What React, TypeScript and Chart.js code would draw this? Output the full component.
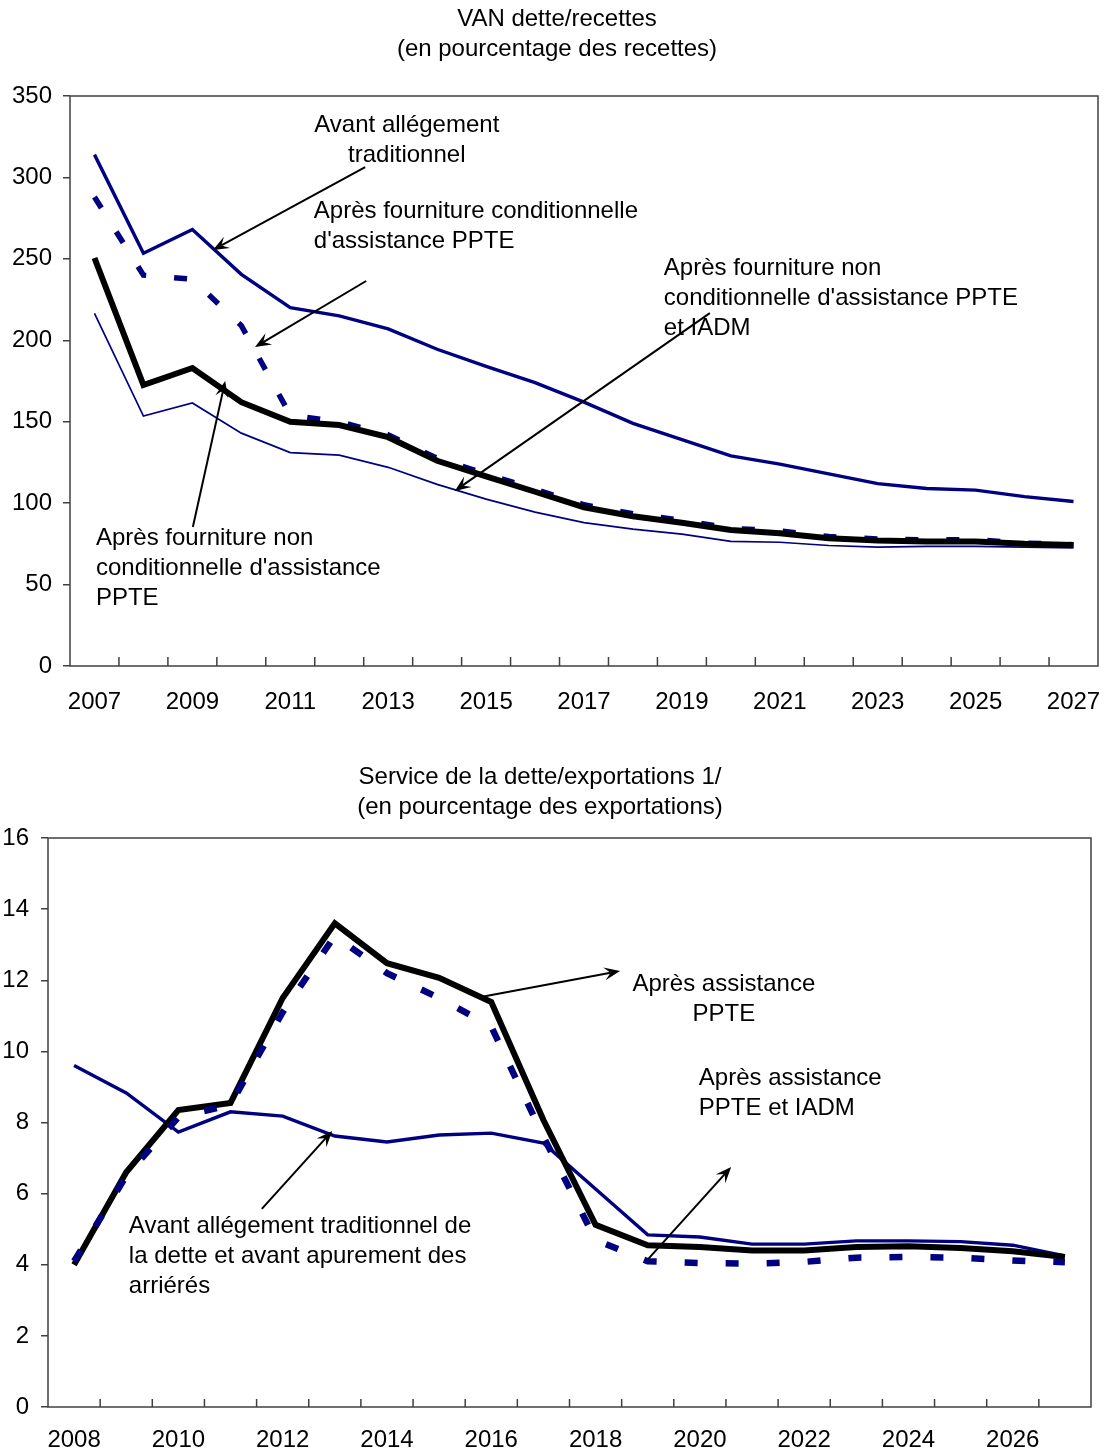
import React, { useEffect, useRef } from 'react';
import { Chart, registerables } from 'chart.js';

Chart.register(...registerables);

const FONT = '"Liberation Sans", Arial, Helvetica, sans-serif';
const NAVY = '#000080';
const AXIS = '#404040';

// ---------- Top chart: VAN dette/recettes ----------
const topYears = ['2007', '2008', '2009', '2010', '2011', '2012', '2013', '2014', '2015', '2016', '2017', '2018', '2019', '2020', '2021', '2022', '2023', '2024', '2025', '2026', '2027'];
const topAvant = [314, 253.5, 268, 240.5, 220, 215, 207, 194.5, 184, 174, 162, 149, 139, 129, 124, 118, 112, 109, 108, 104, 101];
const topConditionnelle = [288, 240, 237.5, 209, 154, 150, 142, 127.5, 118, 108.5, 99, 93.5, 89.5, 84.5, 83, 79.5, 78, 77.5, 77.5, 75.5, 74.5];
const topNonConditionnelle = [250.5, 172.5, 183, 162, 150, 148, 140.5, 126, 116.5, 107, 97.5, 92, 88, 83.5, 81.5, 78.5, 77, 76.5, 76.5, 75, 74.3];
const topNonCondIADM = [216.5, 153.5, 161.5, 143, 131, 129.5, 122, 111.5, 102.5, 94.5, 88, 84, 81, 76.5, 76, 74, 73, 73.5, 73.5, 73, 72.5];
const topYTicks = { min: 0, max: 350, step: 50 };
const topTitle = ['VAN dette/recettes', '(en pourcentage des recettes)'];

// ---------- Bottom chart: Service de la dette/exportations ----------
const botYears = ['2008', '2009', '2010', '2011', '2012', '2013', '2014', '2015', '2016', '2017', '2018', '2019', '2020', '2021', '2022', '2023', '2024', '2025', '2026', '2027'];
const botAvant = [9.6, 8.83, 7.73, 8.3, 8.18, 7.62, 7.45, 7.65, 7.7, 7.42, 6.13, 4.84, 4.78, 4.58, 4.58, 4.67, 4.67, 4.65, 4.55, 4.25];
const botPPTE = [4.0, 6.6, 8.35, 8.55, 11.5, 13.6, 12.48, 12.07, 11.39, 8.07, 5.12, 4.55, 4.5, 4.4, 4.4, 4.5, 4.52, 4.47, 4.38, 4.22];
const botPPTEIADM = [4.1, 6.5, 8.15, 8.5, 11.1, 13.25, 12.2, 11.5, 10.7, 7.6, 4.7, 4.1, 4.05, 4.03, 4.08, 4.2, 4.22, 4.2, 4.12, 4.07];
const botYTicks = { min: 0, max: 16, step: 2 };
const botTitle = ['Service de la dette/exportations 1/', '(en pourcentage des exportations)'];

type Note = { lines: string[]; x: number; y: number; align: CanvasTextAlign };
type Arrow = { from: [number, number]; to: [number, number] };

// annotations anchored in data coordinates (category index, value)
const topNotes: Note[] = [
  { lines: ['Avant allégement', 'traditionnel'], x: 6.38, y: 332.2, align: 'center' },
  { lines: ['Après fourniture conditionnelle', "d'assistance PPTE"], x: 4.48, y: 279.4, align: 'left' },
  { lines: ['Après fourniture non', "conditionnelle d'assistance PPTE", 'et IADM'], x: 11.63, y: 244.4, align: 'left' },
  { lines: ['Après fourniture non', "conditionnelle d'assistance", 'PPTE'], x: 0.03, y: 78.6, align: 'left' },
];
const topArrows: Arrow[] = [
  { from: [5.53, 306.4], to: [2.42, 255.4] },
  { from: [5.55, 236.4], to: [3.28, 195.9] },
  { from: [12.57, 216.7], to: [7.36, 107.5] },
  { from: [2.01, 85.3], to: [2.67, 175] },
];
const botNotes: Note[] = [
  { lines: ['Après assistance', 'PPTE'], x: 12.46, y: 11.87, align: 'center' },
  { lines: ['Après assistance', 'PPTE et IADM'], x: 11.98, y: 9.25, align: 'left' },
  { lines: ['Avant allégement traditionnel de', 'la dette et avant apurement des', 'arriérés'], x: 1.05, y: 5.09, align: 'left' },
];
const botArrows: Arrow[] = [
  { from: [7.8, 11.53], to: [10.47, 12.26] },
  { from: [10.99, 4.13], to: [12.6, 6.75] },
  { from: [3.6, 5.57], to: [4.95, 7.76] },
];

function makePlugin(title: string[], titleX: number, titleY: number, notes: Note[], arrows: Arrow[], tickLen: number) {
  return {
    id: 'decor',
    beforeDatasetsDraw(chart: any) {
      const { ctx, chartArea: a, scales } = chart;
      const xs = scales.x;
      ctx.save();
      ctx.strokeStyle = AXIS;
      ctx.lineWidth = 1.5;
      ctx.strokeRect(a.left, a.top, a.right - a.left, a.bottom - a.top);
      ctx.beginPath();
      const n = xs.ticks.length;
      for (let i = 1; i < n; i++) {
        const px = xs.getPixelForValue(i - 0.5);
        ctx.moveTo(px, a.bottom);
        ctx.lineTo(px, a.bottom - tickLen);
      }
      ctx.stroke();
      ctx.restore();
    },
    afterDatasetsDraw(chart: any) {
      const { ctx, scales } = chart;
      const xs = scales.x;
      const ys = scales.y;
      ctx.save();
      ctx.strokeStyle = '#000';
      ctx.fillStyle = '#000';
      ctx.lineWidth = 2;
      for (const ar of arrows) {
        const x1 = xs.getPixelForValue(ar.from[0]);
        const y1 = ys.getPixelForValue(ar.from[1]);
        const x2 = xs.getPixelForValue(ar.to[0]);
        const y2 = ys.getPixelForValue(ar.to[1]);
        const len = Math.hypot(x2 - x1, y2 - y1);
        const ux = (x2 - x1) / len;
        const uy = (y2 - y1) / len;
        const L = 16;
        const W = 6.5;
        ctx.beginPath();
        ctx.moveTo(x1, y1);
        ctx.lineTo(x2 - ux * L * 0.6, y2 - uy * L * 0.6);
        ctx.stroke();
        ctx.beginPath();
        ctx.moveTo(x2, y2);
        ctx.lineTo(x2 - ux * L - uy * W, y2 - uy * L + ux * W);
        ctx.lineTo(x2 - ux * L * 0.6, y2 - uy * L * 0.6);
        ctx.lineTo(x2 - ux * L + uy * W, y2 - uy * L - ux * W);
        ctx.closePath();
        ctx.fill();
      }
      ctx.font = `24px ${FONT}`;
      ctx.textBaseline = 'middle';
      for (const nt of notes) {
        const px = xs.getPixelForValue(nt.x);
        const py = ys.getPixelForValue(nt.y);
        ctx.textAlign = nt.align;
        nt.lines.forEach((ln, i) => ctx.fillText(ln, px, py + i * 30));
      }
      ctx.restore();
    },
    afterDraw(chart: any) {
      const { ctx } = chart;
      ctx.save();
      ctx.font = `24px ${FONT}`;
      ctx.fillStyle = '#000';
      ctx.textAlign = 'center';
      ctx.textBaseline = 'middle';
      title.forEach((ln, i) => ctx.fillText(ln, titleX, titleY + i * 30));
      ctx.restore();
    },
  };
}

function line(data: number[], color: string, width: number, order: number, dash?: number[]) {
  return {
    data,
    borderColor: color,
    backgroundColor: color,
    borderWidth: width,
    borderDash: dash || [],
    borderCapStyle: 'butt',
    borderJoinStyle: 'miter',
    pointRadius: 0,
    pointHoverRadius: 0,
    fill: false,
    tension: 0,
    order,
  };
}

function baseOptions(opts: {
  padTop: number; padRight: number; yWidth: number; xHeight: number; yPad: number;
  labelLH: number; yr: { min: number; max: number; step: number }; labels: string[];
}) {
  return {
    responsive: false,
    maintainAspectRatio: false,
    animation: false,
    events: [],
    layout: { padding: { top: opts.padTop, right: opts.padRight, bottom: 0, left: 0 } },
    plugins: { legend: { display: false }, title: { display: false }, tooltip: { enabled: false } },
    scales: {
      x: {
        type: 'category',
        offset: true,
        grid: { display: false, drawTicks: false },
        border: { display: false },
        ticks: {
          autoSkip: false,
          maxRotation: 0,
          minRotation: 0,
          padding: 0,
          color: '#000',
          font: { family: FONT, size: 24, lineHeight: opts.labelLH },
          callback: (_v: any, i: number) => (i % 2 === 0 ? opts.labels[i] : ''),
        },
        afterFit: (s: any) => { s.height = opts.xHeight; },
      },
      y: {
        min: opts.yr.min,
        max: opts.yr.max,
        border: { display: false },
        grid: { drawOnChartArea: false, drawTicks: true, tickLength: 7, color: AXIS, lineWidth: 1.5 },
        ticks: { stepSize: opts.yr.step, padding: opts.yPad, color: '#000', font: { family: FONT, size: 24 } },
        afterFit: (s: any) => { s.width = opts.yWidth; },
      },
    },
  };
}

export default function App() {
  const topRef = useRef<HTMLCanvasElement>(null);
  const botRef = useRef<HTMLCanvasElement>(null);

  useEffect(() => {
    const c1 = new Chart(topRef.current as HTMLCanvasElement, {
      type: 'line',
      data: {
        labels: topYears,
        datasets: [
          line(topNonConditionnelle, '#000', 6, 0),
          line(topConditionnelle, NAVY, 5.5, 1, [13, 28]),
          line(topAvant, NAVY, 3.4, 2),
          line(topNonCondIADM, NAVY, 1.7, 3),
        ] as any,
      },
      options: baseOptions({
        padTop: 96, padRight: 7, yWidth: 70, xHeight: 74, yPad: 11, labelLH: 3,
        yr: topYTicks, labels: topYears,
      }) as any,
      plugins: [makePlugin(topTitle, 557, 19, topNotes, topArrows, 9)],
    });
    const c2 = new Chart(botRef.current as HTMLCanvasElement, {
      type: 'line',
      data: {
        labels: botYears,
        datasets: [
          line(botPPTEIADM, NAVY, 6.5, 0, [13, 28]),
          line(botPPTE, '#000', 6, 1),
          line(botAvant, NAVY, 3.4, 2),
        ] as any,
      },
      options: baseOptions({
        padTop: 98, padRight: 14, yWidth: 48, xHeight: 48, yPad: 12, labelLH: 2.75,
        yr: botYTicks, labels: botYears,
      }) as any,
      plugins: [makePlugin(botTitle, 540, 37, botNotes, botArrows, 8)],
    });
    return () => {
      c1.destroy();
      c2.destroy();
    };
  }, []);

  return (
    <div style={{ position: 'absolute', left: 0, top: 0, width: 1105, height: 1455, background: '#fff' }}>
      <canvas ref={topRef} width={1105} height={740} style={{ position: 'absolute', left: 0, top: 0, display: 'block' }} />
      <canvas ref={botRef} width={1105} height={715} style={{ position: 'absolute', left: 0, top: 740, display: 'block' }} />
    </div>
  );
}
